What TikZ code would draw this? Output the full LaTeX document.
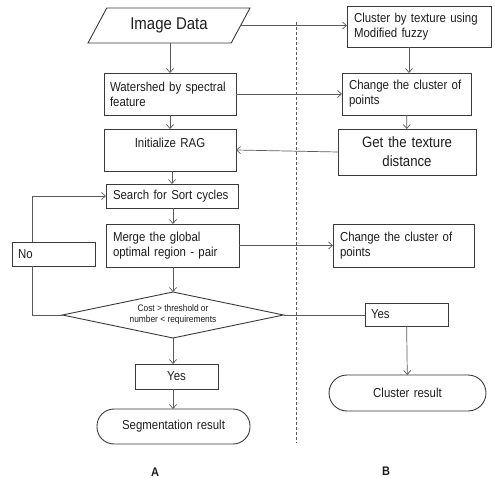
\documentclass[tikz,border=0pt]{standalone}
\usepackage{fontspec}
\setmainfont[FakeStretch=0.88]{Liberation Sans}
\usetikzlibrary{arrows.meta,positioning,calc,shapes.geometric}
\definecolor{Ink}{HTML}{1E1E1E}
\definecolor{Edge}{HTML}{3A3A3A}
\definecolor{Wire}{HTML}{5A5A5A}
\tikzset{
  proc/.style={draw=Edge,line width=0.9pt,fill=white,text=Ink,anchor=north west,outer sep=0pt,inner xsep=6pt,inner ysep=2pt,align=left,font=\fontsize{13}{15}\selectfont},
  procmid/.style={proc,align=center},
  term/.style={procmid,rounded corners=#1},
  decide/.style={diamond,draw=Edge,line width=0.9pt,fill=white,text=Ink,outer sep=0pt,inner sep=0pt,aspect=4.8,minimum width=221pt,minimum height=46pt,align=center,font=\fontsize{9.5}{11}\selectfont},
  iodata/.style={trapezium,trapezium left angle=49.4,trapezium right angle=130.6,trapezium stretches body=true,draw=Edge,line width=0.9pt,fill=white,text=Ink,outer sep=0pt,minimum width=162pt,minimum height=35pt,font=\fontsize{17}{19}\selectfont},
  colname/.style={text=Ink,font=\bfseries\fontsize{12.5}{14}\selectfont},
  arrow/.style={-{Straight Barb[length=4pt,width=7pt]},line width=0.7pt,draw=Wire},
  link/.style={line width=0.7pt,draw=Wire}
}
\begin{document}
\begin{tikzpicture}[x=1pt,y=-1pt]
\useasboundingbox (0,0) rectangle (495,478);
\draw[Wire,line width=0.6pt,dash pattern=on 3pt off 2pt] (296,22) -- (296,443);
\node[iodata] (img) at (169,25.5) {Image Data};
\node[proc,text width=120pt,minimum height=42pt] (water) at (104,73) {Watershed by spectral\\feature};
\node[procmid,text width=120pt,minimum height=42pt] (init) at (104,129) {Initialize RAG\\\mbox{}};
\node[proc,inner xsep=7pt,text width=118pt,minimum height=24pt] (search) at (106,184) {Search for Sort cycles};
\node[proc,inner xsep=7pt,text width=119pt,minimum height=43pt] (merge) at (106,224) {Merge the global\\optimal region - pair};
\node[proc,text width=71pt,minimum height=24pt] (no) at (12,242) {No};
\node[decide] (cond) at (173,315) {Cost > threshold or\\number < requirements};
\node[procmid,text width=71pt,minimum height=25pt] (yesA) at (135,364) {Yes};
\node[term=17pt,text width=141pt,minimum height=35pt] (seg) at (97,409) {Segmentation result};
\node[proc,inner xsep=7pt,text width=130pt,minimum height=41pt] (clus) at (347,6) {Cluster by texture using\\Modified fuzzy};
\node[proc,inner xsep=7pt,text width=115pt,minimum height=42pt] (chg1) at (342,73) {Change the cluster of\\points};
\node[procmid,text width=126pt,minimum height=46pt,font=\fontsize{15}{19}\selectfont] (dist) at (338,129) {Get the texture\\distance};
\node[proc,inner xsep=7pt,text width=127pt,minimum height=43pt] (chg2) at (333,224) {Change the cluster of\\points};
\node[proc,text width=71pt,minimum height=23pt] (yesB) at (365,303) {Yes};
\node[term=18pt,text width=145pt,minimum height=36pt] (cres) at (329,375) {Cluster result};
\node[colname] (labA) at (155,472) {A};
\node[colname] (labB) at (386,471) {B};
\draw[arrow] (img.south -| water.north) -- (water.north);
\draw[arrow] (img.east) -- (img.east -| clus.west);
\draw[arrow] ([xshift=-10pt]clus.south) -- ([xshift=-10pt]clus.south |- chg1.north);
\draw[arrow] (water) -- (init);
\draw[arrow] (water.east) -- (water.east -| chg1.west);
\draw[arrow] (chg1) -- (dist);
\draw[arrow] (dist.west) -- (init.east);
\draw[arrow] (init.south -| search.north) -- (search.north);
\draw[arrow] (search.south -| cond.north) -- (cond.north |- merge.north);
\draw[arrow] (merge.south -| cond.north) -- (cond.north);
\draw[arrow] (merge.east) -- (merge.east -| chg2.west);
\draw[link] (cond.west) -| ([xshift=-21pt]no.south);
\draw[arrow] ([xshift=-21pt]no.north) |- (search.west);
\draw[arrow] (cond.south) -- (cond.south |- yesA.north);
\draw[arrow] (cond.south |- yesA.south) -- (cond.south |- seg.north);
\draw[link] (cond.east) -- (cond.east -| yesB.west);
\draw[arrow] (yesB) -- (cres);
\end{tikzpicture}
\end{document}
